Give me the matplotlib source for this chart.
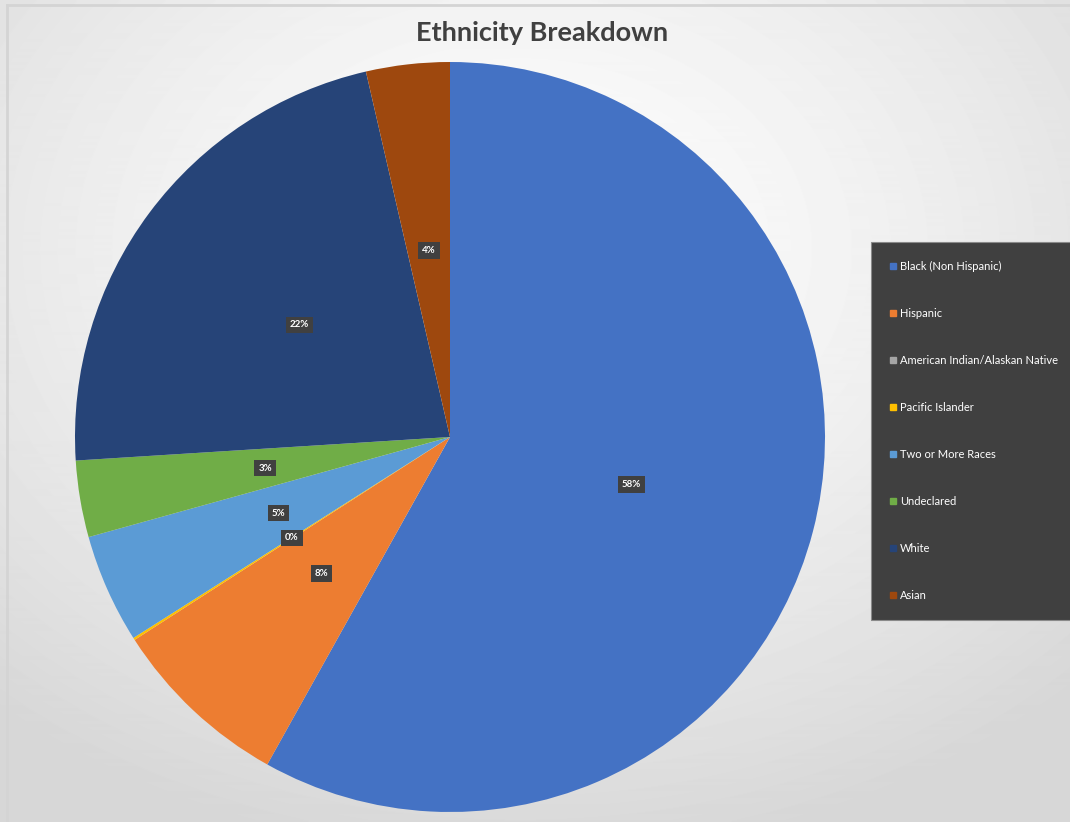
import numpy as np
import matplotlib
matplotlib.use("Agg")
import matplotlib.pyplot as plt
from matplotlib.lines import Line2D

plt.rcParams['font.family'] = ['Lato', 'DejaVu Sans']

# data, clockwise from 12 o'clock
groups = ['Black (Non Hispanic)', 'Hispanic', 'American Indian/Alaskan Native',
          'Pacific Islander', 'Two or More Races', 'Undeclared', 'White', 'Asian']
shares = [58.1, 7.8, 0.0, 0.1, 4.7, 3.3, 22.4, 3.6]
colors = ['#4472C4', '#ED7D31', '#A5A5A5', '#FFC000',
          '#5B9BD5', '#70AD47', '#264478', '#9E480E']

fig = plt.figure(figsize=(10.7, 8.22), dpi=100)

# radial grey background
bg = fig.add_axes([0, 0, 1, 1])
yy, xx = np.mgrid[0:822, 0:1070]
d = np.hypot((xx - 520) / 1070, (yy - 250) / 822)
shade = 1.0 - 0.16 * np.clip(d / 0.75, 0, 1) ** 1.3
bg.imshow(shade, cmap='gray', vmin=0, vmax=1, extent=[0, 1070, 822, 0], aspect='auto')
bg.plot([7, 1070], [5, 5], color='#d4d4d4', lw=2)
bg.plot([7, 7], [5, 822], color='#d4d4d4', lw=2)
bg.set_xlim(0, 1070)
bg.set_ylim(822, 0)
bg.axis('off')

cx, cy, r = 450, 437, 375
ax = fig.add_axes([(cx - r) / 1070, 1 - (cy + r) / 822, 2 * r / 1070, 2 * r / 822])
wedges, texts, autotexts = ax.pie(
    shares, colors=colors, startangle=90, counterclock=False, radius=1,
    autopct='%1.0f%%', pctdistance=0.5,
    wedgeprops=dict(linewidth=0),
    textprops=dict(color='white', fontsize=7, fontweight='bold'))
for t in autotexts:
    t.set_bbox(dict(boxstyle='square,pad=0.4', facecolor='#404040', edgecolor='none'))
# the zero slice sits under the Pacific Islander label
autotexts[2].set_visible(False)
ax.set_xlim(-1, 1)
ax.set_ylim(-1, 1)
ax.set_aspect('auto')
ax.axis('off')

fig.text(542 / 1070, 1 - 33 / 822, 'Ethnicity Breakdown', ha='center', va='center',
         fontsize=19.5, fontweight='bold', color='#404040')

handles = [Line2D([0], [0], marker='s', linestyle='none', markersize=5,
                  markerfacecolor=c, markeredgecolor=c) for c in colors]
leg = fig.legend(handles, groups, loc='upper left',
                 bbox_to_anchor=(871 / 1070, 1 - 617 / 822, 0.2, 375 / 822),
                 mode='expand', borderaxespad=0, fontsize=8, labelcolor='white',
                 labelspacing=3.24, handlelength=0.6, handletextpad=0.3,
                 borderpad=1.7, fancybox=False, framealpha=1)
leg.get_frame().set_facecolor('#404040')
leg.get_frame().set_edgecolor('#8a8a8a')
leg.get_frame().set_linewidth(0.8)

fig.savefig('out.png', dpi=100)
